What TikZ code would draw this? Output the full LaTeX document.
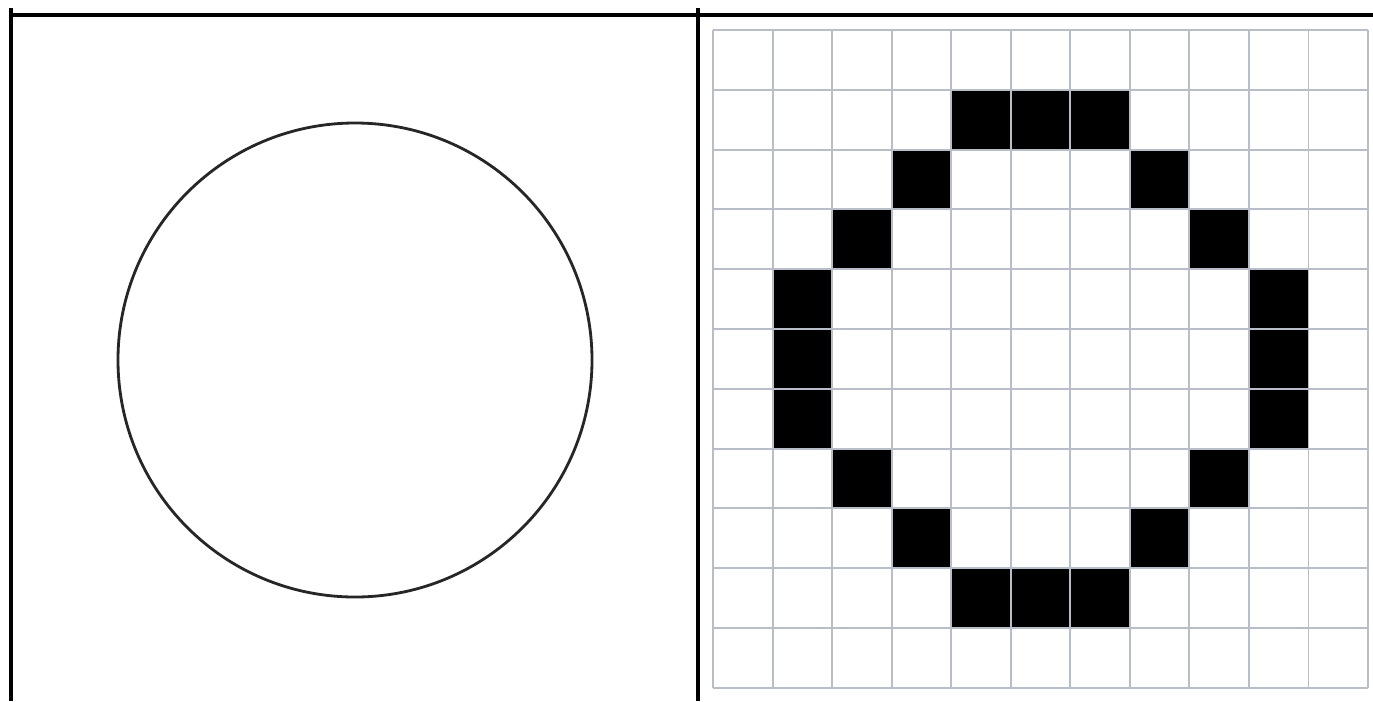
\documentclass[tikz,border=0pt]{standalone}
\definecolor{gridgray}{RGB}{184,190,200}
\tikzset{
  frame/.style={line width=1.9pt, black},
  gridline/.style={line width=1.1pt, gridgray},
  pixel/.style={fill=black}
}
\begin{document}
\begin{tikzpicture}[x=0.02cm,y=-0.02cm]
\useasboundingbox[fill=white] (0,0) rectangle (1373,701);
% frame lines
\draw[frame] (10,15) -- (1373,15);
\draw[frame] (11,8) -- (11,701);
\draw[frame] (698,8) -- (698,701);
% circle
\draw[line width=1.6pt, black!85] (355,360) circle (237);
% pixels
\def\xo{713}\def\dx{59.55}\def\yo{30}\def\dy{59.8}
\foreach \c/\r in {4/1,5/1,6/1,3/2,7/2,2/3,8/3,1/4,9/4,1/5,9/5,1/6,9/6,2/7,8/7,3/8,7/8,4/9,5/9,6/9}{
  \fill[pixel] ({\xo+\c*\dx},{\yo+\r*\dy}) rectangle ({\xo+(\c+1)*\dx},{\yo+(\r+1)*\dy});
}
% grid
\foreach \i in {0,...,11}{
  \draw[gridline] ({\xo+\i*\dx},\yo) -- ({\xo+\i*\dx},{\yo+11*\dy});
  \draw[gridline] (\xo,{\yo+\i*\dy}) -- ({\xo+11*\dx},{\yo+\i*\dy});
}
\end{tikzpicture}
\end{document}
